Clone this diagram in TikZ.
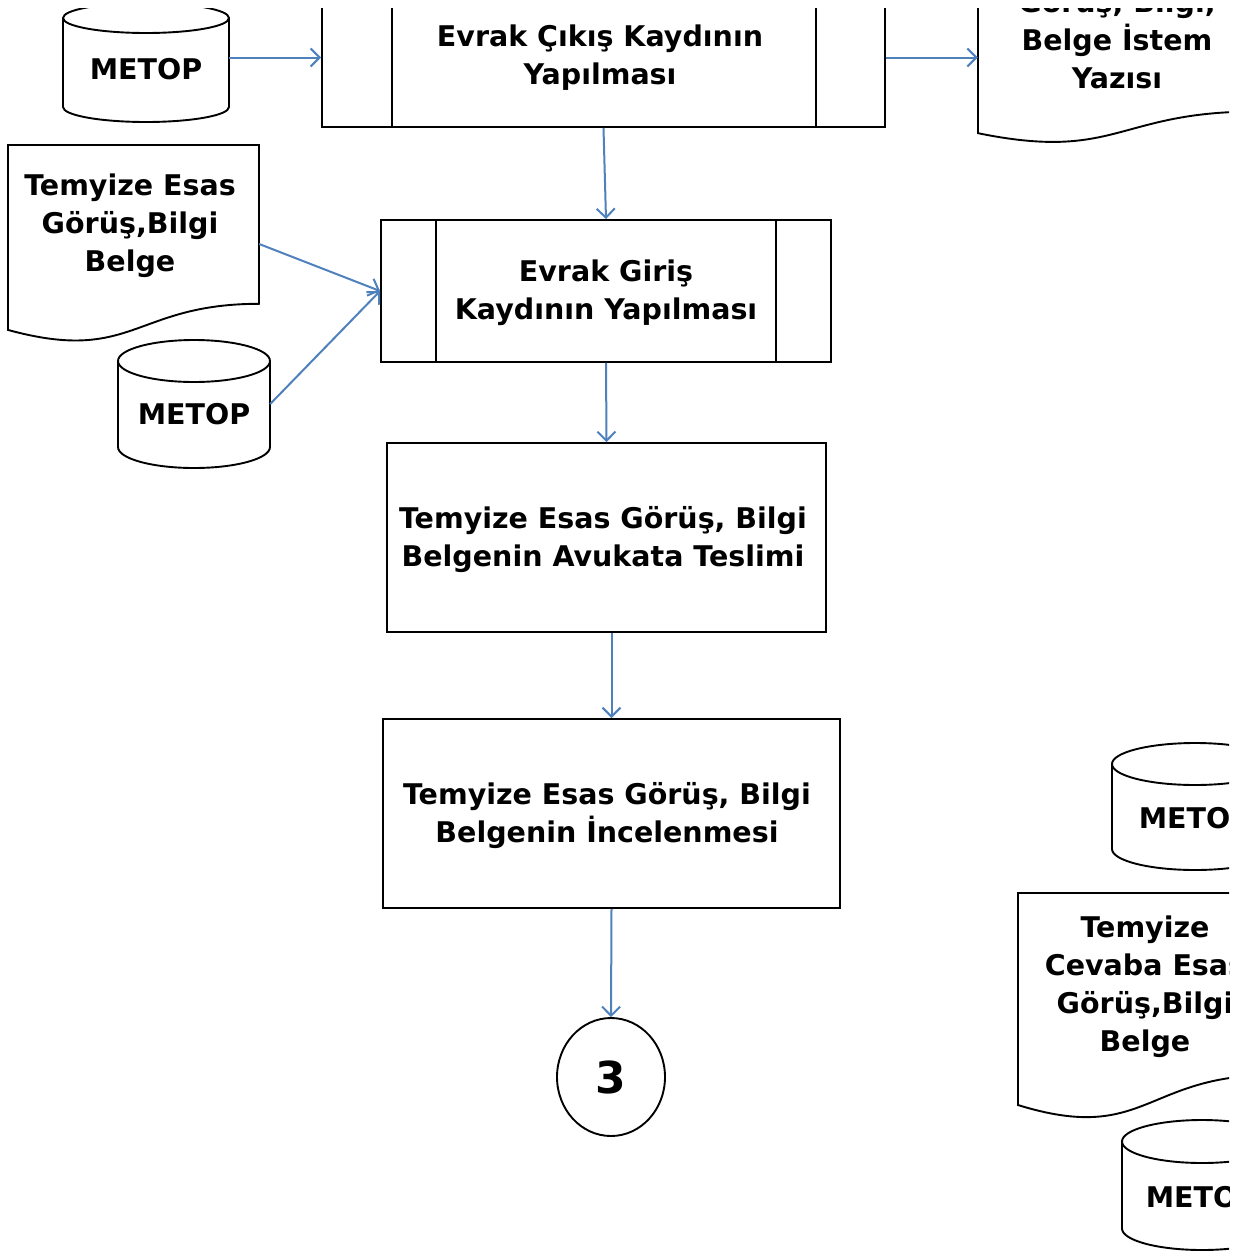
\documentclass[tikz,border=0pt]{standalone}
\usepackage{fontspec}
\setmainfont{DejaVu Sans}
\usetikzlibrary{arrows.meta,shapes.geometric}
\definecolor{arrowblue}{HTML}{4F81BD}
\newcommand\docshape[4]{%
  \draw[shapeline] (#1,#2) -- ({#1+#3},#2) -- ({#1+#3},{#2+0.802*#4})
    .. controls ({#1+0.5*#3},{#2+0.802*#4}) and ({#1+0.5*#3},{#2+1.1075*#4}) ..
    (#1,{#2+0.934*#4}) -- cycle;}
\newcommand\cylshape[5]{%
  \draw[shapeline] (#1,{#2+#5}) ellipse [x radius=#4pt, y radius=#5pt];
  \draw[shapeline] ({#1-#4},{#2+#5}) -- ({#1-#4},{#3-#5})
    arc[start angle=180,end angle=360,x radius=#4pt,y radius=#5pt]
    -- ({#1+#4},{#2+#5});}
\tikzset{
  shapeline/.style={draw=black,line width=1.9pt},
  procbox/.style={draw=black,line width=1.9pt,rectangle,inner sep=0pt},
  holder/.style={rectangle,inner sep=0pt,draw=none},
  txt/.style={font=\fontsize{28.5}{38}\selectfont\bfseries,align=center,inner sep=0pt},
  arr/.style={draw=arrowblue,line width=2pt,-{Straight Barb[length=9pt,width=18pt,line width=2pt]}},
}
\begin{document}
\begin{tikzpicture}[x=1pt,y=-1pt]
\useasboundingbox[fill=white] (0,0) rectangle (1243,1253);
\begin{scope}
\clip (0,8) rectangle (1229,1253);
% top process box
\node[procbox,minimum width=563pt,minimum height=139pt] (exitbox) at (603.5,57.5) {};
\draw[shapeline] ([xshift=71pt]exitbox.north west) -- ([xshift=71pt]exitbox.south west);
\draw[shapeline] ([xshift=-70pt]exitbox.north east) -- ([xshift=-70pt]exitbox.south east);
\node[txt] (exittxt) at (600,57.5) {Evrak Çıkış Kaydının\\Yapılması};
% entry process box
\node[procbox,minimum width=450pt,minimum height=142pt] (girisbox) at (606,291) {};
\draw[shapeline] ([xshift=56pt]girisbox.north west) -- ([xshift=56pt]girisbox.south west);
\draw[shapeline] ([xshift=-56pt]girisbox.north east) -- ([xshift=-56pt]girisbox.south east);
\node[txt] (giristxt) at (606,292.5) {Evrak Giriş\\Kaydının Yapılması};
% box 3
\node[procbox,minimum width=439pt,minimum height=189pt] (teslimbox) at (606.5,537.5) {};
\node[txt] (teslimtxt) at (603,539.5) {Temyize Esas Görüş, Bilgi\\Belgenin Avukata Teslimi};
% box 4
\node[procbox,minimum width=457pt,minimum height=189pt] (incelbox) at (611.5,813.5) {};
\node[txt] (inceltxt) at (607,816) {Temyize Esas Görüş, Bilgi\\Belgenin İncelenmesi};
% connector circle
\node[ellipse,draw=black,line width=1.9pt,minimum width=108pt,minimum height=118pt,inner sep=0pt,
      font=\fontsize{44}{44}\selectfont\bfseries] (conn) at (611,1077) {3};
% top-left cylinder
\cylshape{146}{3}{122}{83}{15}
\node[holder,minimum width=166pt,minimum height=119pt] (metopa) at (146,62.5) {};
\node[txt] (metopatxt) at (146,69) {METOP};
% left document
\docshape{8}{145}{251}{198}
\node[holder,minimum width=251pt,minimum height=198pt] (ldoc) at (133.5,244) {};
\node[txt] (ldoctxt) at (130,226) {Temyize Esas\\Görüş,Bilgi\\Belge};
% left cylinder
\cylshape{194}{340}{468}{76}{21}
\node[holder,minimum width=152pt,minimum height=128pt] (metopb) at (194,404) {};
\node[txt] (metopbtxt) at (194,414) {METOP};
% top-right document
\docshape{978}{-20}{278}{164}
\node[holder,minimum width=278pt,minimum height=164pt] (rdoc) at (1117,62) {};
\node[txt] (rdoctxt) at (1117,40) {Görüş, Bilgi,\\Belge İstem\\Yazısı};
% right cylinder 1
\cylshape{1195}{743}{870}{83}{21}
\node[holder,minimum width=166pt,minimum height=127pt] (metopc) at (1195,806.5) {};
\node[txt] (metopctxt) at (1195,818) {METOP};
% right document 2
\docshape{1018}{893}{254}{227}
\node[holder,minimum width=254pt,minimum height=227pt] (rdocb) at (1145,1006.5) {};
\node[txt] (rdocbtxt) at (1145,987) {Temyize\\Cevaba Esas\\Görüş,Bilgi\\Belge};
% right cylinder 2
\cylshape{1202}{1120}{1250}{80}{21.5}
\node[holder,minimum width=160pt,minimum height=130pt] (metopd) at (1202,1185) {};
\node[txt] (metopdtxt) at (1202,1197) {METOP};
% connectors
\draw[arr] (metopa.east |- exitbox.west) -- (exitbox.west);
\draw[arr] (exitbox.east) -- (exitbox.east -| rdoc.west);
\draw[arr] (exitbox.south) -- (girisbox.north);
\draw[arr] (ldoc.east) -- (girisbox.west);
\draw[arr] (metopb.east) -- (girisbox.west);
\draw[arr] (girisbox.south) -- (teslimbox.north);
\draw[arr] (teslimbox.south -| incelbox.north) -- (incelbox.north);
\draw[arr] (incelbox.south) -- (conn.north);
\end{scope}
\end{tikzpicture}
\end{document}
